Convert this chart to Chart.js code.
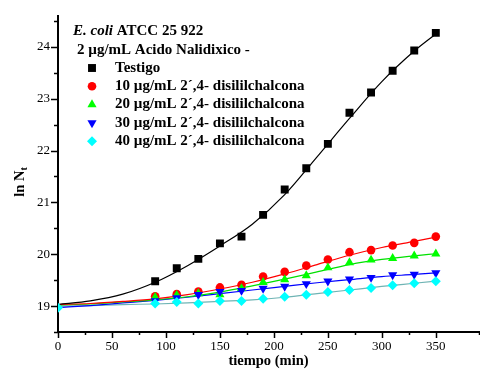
<!DOCTYPE html>
<html>
<head>
<meta charset="utf-8">
<script src="https://cdn.jsdelivr.net/npm/chart.js@4"></script>
<style>
  html, body { margin: 0; padding: 0; background: #fff; overflow: hidden; }
</style>
</head>
<body>
<canvas id="chart" width="486" height="376"></canvas>
<script>
// measured points (time in min, ln N)
const tiempo = [90, 110, 130, 150, 170, 190, 210, 230, 250, 270, 290, 310, 330, 350];
const testigo = [19.48, 19.73, 19.91, 20.21, 20.34, 20.76, 21.25, 21.66, 22.13, 22.73, 23.12, 23.54, 23.93, 24.27];
const conc10 = [19.19, 19.23, 19.28, 19.36, 19.41, 19.57, 19.66, 19.78, 19.90, 20.04, 20.08, 20.17, 20.22, 20.34];
const conc20 = [19.17, 19.21, 19.24, 19.22, 19.34, 19.46, 19.51, 19.59, 19.74, 19.84, 19.89, 19.92, 19.97, 20.01];
const conc30 = [19.10, 19.16, 19.22, 19.28, 19.30, 19.34, 19.38, 19.43, 19.48, 19.52, 19.55, 19.60, 19.61, 19.64];
const tiempo40 = [0, 90, 110, 130, 150, 170, 190, 210, 230, 250, 270, 290, 310, 330, 350];
const conc40 = [18.97, 19.05, 19.08, 19.05, 19.10, 19.10, 19.14, 19.18, 19.22, 19.27, 19.31, 19.35, 19.40, 19.44, 19.48];

// fitted curves
const ajusteX = [0, 30, 60, 90, 120, 150, 180, 210, 240, 270, 300, 330, 350];
const ajusteTestigo = [19.03, 19.10, 19.23, 19.46, 19.78, 20.16, 20.58, 21.15, 21.88, 22.62, 23.33, 23.92, 24.25];
const ajuste10 = [19.03, 19.05, 19.09, 19.14, 19.22, 19.33, 19.46, 19.62, 19.80, 19.98, 20.13, 20.25, 20.33];
const ajuste20 = [19.02, 19.04, 19.08, 19.12, 19.18, 19.27, 19.39, 19.52, 19.66, 19.80, 19.90, 19.97, 20.01];
const ajuste30 = [18.97, 19.01, 19.06, 19.11, 19.17, 19.24, 19.31, 19.38, 19.45, 19.51, 19.57, 19.61, 19.64];
const ajuste40 = [19.00, 19.01, 19.03, 19.04, 19.06, 19.09, 19.12, 19.17, 19.24, 19.31, 19.38, 19.44, 19.48];

const etiquetas = ['Testigo', '10 µg/mL 2´,4- disililchalcona', '20 µg/mL 2´,4- disililchalcona',
  '30 µg/mL 2´,4- disililchalcona', '40 µg/mL 2´,4- disililchalcona'];

const serif = '"Liberation Serif", "Times New Roman", serif';

const pts = (xs, ys) => xs.map((x, i) => ({ x: x, y: ys[i] }));

// marker style per series
const marcas = [
  { color: '#000000', style: 'rect', radius: 5.6, rotation: 0 },
  { color: '#ff0000', style: 'circle', radius: 4.3, rotation: 0 },
  { color: '#00ff00', style: 'triangle', radius: 5.3, rotation: 0 },
  { color: '#0000ff', style: 'triangle', radius: 5.3, rotation: 180 },
  { color: '#00ffff', style: 'rectRot', radius: 5, rotation: 0 }
];
const colorAjuste = ['#000000', '#ff0000', '#00e000', '#0000ff', '#6fb4b4'];

function lineaAjuste(ys, i) {
  return {
    type: 'line', data: pts(ajusteX, ys), borderColor: colorAjuste[i], borderWidth: 1.2,
    pointRadius: 0, cubicInterpolationMode: 'monotone', fill: false, order: 10
  };
}
function puntos(xs, ys, i) {
  const m = marcas[i];
  return {
    type: 'scatter', label: etiquetas[i], data: pts(xs, ys), showLine: false,
    pointStyle: m.style, pointRadius: m.radius, pointRotation: m.rotation,
    pointBackgroundColor: m.color, pointBorderColor: m.color, pointBorderWidth: 0,
    pointHoverRadius: m.radius, order: 5 - i
  };
}

// tick marks (major/minor), y title and the in-plot legend
const extras = {
  id: 'extras',
  afterDraw(chart) {
    const ctx = chart.ctx;
    const { left, bottom } = chart.chartArea;
    const sx = chart.scales.x, sy = chart.scales.y;
    ctx.save();
    ctx.strokeStyle = '#000';
    ctx.lineWidth = 1.5;
    sy.ticks.forEach(t => {
      const p = Math.round(sy.getPixelForValue(t.value)) + 0.5;
      const len = Number.isInteger(t.value) ? 7 : 4;
      ctx.beginPath(); ctx.moveTo(left - len, p); ctx.lineTo(left, p); ctx.stroke();
    });
    sx.ticks.forEach(t => {
      const p = Math.round(sx.getPixelForValue(t.value)) + 0.5;
      const len = t.value % 50 === 0 ? 6 : 3;
      ctx.beginPath(); ctx.moveTo(p, bottom); ctx.lineTo(p, bottom + len); ctx.stroke();
    });

    // y axis title ln N_t
    ctx.fillStyle = '#000';
    ctx.translate(24, 182);
    ctx.rotate(-Math.PI / 2);
    ctx.font = 'bold 14.5px ' + serif;
    const w1 = ctx.measureText('ln N').width;
    ctx.font = 'bold 10px ' + serif;
    const w2 = ctx.measureText('t').width;
    ctx.font = 'bold 14.5px ' + serif;
    ctx.textBaseline = 'alphabetic';
    ctx.fillText('ln N', -(w1 + w2) / 2, 0);
    ctx.font = 'bold 10px ' + serif;
    ctx.fillText('t', -(w1 + w2) / 2 + w1, 3);
    ctx.restore();

    // legend block
    ctx.save();
    ctx.fillStyle = '#000';
    ctx.textBaseline = 'middle';
    ctx.font = 'italic bold 15px ' + serif;
    ctx.fillText('E. coli', 73, 31);
    const wi = ctx.measureText('E. coli ').width;
    ctx.font = 'bold 15px ' + serif;
    ctx.fillText('ATCC 25 922', 73 + wi, 31);
    ctx.fillText('2 µg/mL Acido Nalidixico -', 77, 50);
    etiquetas.forEach((txt, i) => {
      const y = 68 + i * 18.3;
      const m = marcas[i];
      ctx.fillStyle = m.color;
      ctx.strokeStyle = m.color;
      Chart.helpers.drawPoint(ctx, { pointStyle: m.style, radius: m.radius, rotation: m.rotation, borderWidth: 0 }, 92, y);
      ctx.fillStyle = '#000';
      ctx.fillText(txt, 115, y);
    });
    ctx.restore();
  }
};

const ctx = document.getElementById('chart').getContext('2d');
new Chart(ctx, {
  data: {
    datasets: [
      lineaAjuste(ajusteTestigo, 0), lineaAjuste(ajuste10, 1), lineaAjuste(ajuste20, 2),
      lineaAjuste(ajuste30, 3), lineaAjuste(ajuste40, 4),
      puntos(tiempo, testigo, 0), puntos(tiempo, conc10, 1), puntos(tiempo, conc20, 2),
      puntos(tiempo, conc30, 3), puntos(tiempo40, conc40, 4)
    ]
  },
  options: {
    responsive: false,
    animation: false,
    devicePixelRatio: 1,
    layout: { padding: { top: 13, right: 0, left: 0, bottom: 0 } },
    plugins: { legend: { display: false }, tooltip: { enabled: false } },
    scales: {
      x: {
        type: 'linear', min: 0, max: 390,
        grid: { display: false, drawTicks: false },
        border: { display: true, color: '#000', width: 2 },
        ticks: {
          stepSize: 25, autoSkip: false, maxRotation: 0, padding: 7, color: '#000',
          font: { family: serif, size: 13 },
          callback: v => (v % 50 === 0 && v <= 350 ? v : '')
        },
        title: {
          display: true, text: 'tiempo (min)', color: '#000',
          font: { family: serif, size: 14.5, weight: 'bold' }, padding: { top: 0, bottom: 6 }
        },
        afterFit: s => { s.height = 44; }
      },
      y: {
        type: 'linear', min: 18.5, max: 24.6,
        grid: { display: false, drawTicks: false },
        border: { display: true, color: '#000', width: 2 },
        ticks: {
          stepSize: 0.5, includeBounds: false, autoSkip: false, padding: 8, color: '#000',
          font: { family: serif, size: 13 },
          callback: v => (Number.isInteger(v) ? v : '')
        },
        afterFit: s => { s.width = 58; }
      }
    }
  },
  plugins: [extras]
});
</script>
</body>
</html>
